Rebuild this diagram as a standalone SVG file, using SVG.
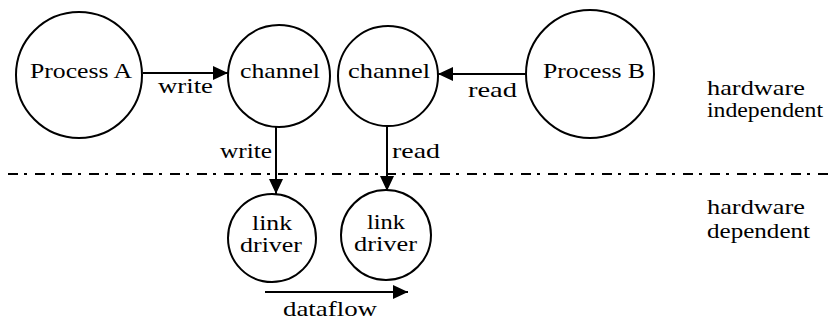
<svg xmlns="http://www.w3.org/2000/svg" width="833" height="320" viewBox="0 0 833 320">
<style>
  .node circle { fill: #fff; stroke: #000; stroke-width: 2; }
  text { font-size: 22px; fill: #000; }
  .conn line { stroke: #000; stroke-width: 2; }
</style>
<defs>
  <marker id="ah" markerWidth="15" markerHeight="14" refX="15" refY="7" orient="auto" markerUnits="userSpaceOnUse">
    <path d="M0,0 L15,7 L0,14 Z" fill="#000"/>
  </marker>
</defs>
<rect width="833" height="320" fill="#fff"/>
<g id="divider">
  <line x1="8" y1="174" x2="828" y2="174" stroke="#000" stroke-width="2" stroke-dasharray="10 6 3 8"/>
</g>
<g font-family="Liberation Serif, Nimbus Roman, FreeSerif, Noto Serif, DejaVu Serif, serif">
<g class="conn" id="connectors">
  <line x1="143" y1="73" x2="228" y2="73" marker-end="url(#ah)"/>
  <line x1="526" y1="74" x2="438" y2="74" marker-end="url(#ah)"/>
  <line x1="276" y1="127" x2="276" y2="194" marker-end="url(#ah)"/>
  <line x1="387" y1="126" x2="387" y2="191" marker-end="url(#ah)"/>
  <line x1="265" y1="292" x2="408" y2="292" marker-end="url(#ah)"/>
  <text x="158" y="93" textLength="55" lengthAdjust="spacingAndGlyphs">write</text>
  <text x="468" y="97" textLength="49" lengthAdjust="spacingAndGlyphs">read</text>
  <text x="220" y="158" textLength="52" lengthAdjust="spacingAndGlyphs">write</text>
  <text x="392" y="158" textLength="48" lengthAdjust="spacingAndGlyphs">read</text>
  <text x="283" y="316" textLength="94" lengthAdjust="spacingAndGlyphs">dataflow</text>
</g>
<g class="node" id="processA">
  <circle cx="79" cy="75" r="63"/>
  <text x="30" y="78" textLength="102" lengthAdjust="spacingAndGlyphs">Process A</text>
</g>
<g class="node" id="channel1">
  <circle cx="279" cy="76" r="51"/>
  <text x="240" y="78" textLength="80" lengthAdjust="spacingAndGlyphs">channel</text>
</g>
<g class="node" id="channel2">
  <circle cx="388" cy="76" r="50"/>
  <text x="348" y="78" textLength="82" lengthAdjust="spacingAndGlyphs">channel</text>
</g>
<g class="node" id="processB">
  <circle cx="590" cy="74" r="64"/>
  <text x="543" y="78" textLength="102" lengthAdjust="spacingAndGlyphs">Process B</text>
</g>
<g class="node" id="linkdriver1">
  <circle cx="272" cy="238" r="44"/>
  <text x="252" y="230" textLength="40" lengthAdjust="spacingAndGlyphs">link</text>
  <text x="240" y="252" textLength="62" lengthAdjust="spacingAndGlyphs">driver</text>
</g>
<g class="node" id="linkdriver2">
  <circle cx="386" cy="235" r="45"/>
  <text x="367" y="229" textLength="38" lengthAdjust="spacingAndGlyphs">link</text>
  <text x="354" y="251" textLength="63" lengthAdjust="spacingAndGlyphs">driver</text>
</g>
<g id="label-independent">
  <text x="707" y="95" textLength="98" lengthAdjust="spacingAndGlyphs">hardware</text>
  <text x="707" y="117" textLength="116" lengthAdjust="spacingAndGlyphs">independent</text>
</g>
<g id="label-dependent">
  <text x="707" y="214" textLength="98" lengthAdjust="spacingAndGlyphs">hardware</text>
  <text x="707" y="238" textLength="103" lengthAdjust="spacingAndGlyphs">dependent</text>
</g>
</g>
</svg>
